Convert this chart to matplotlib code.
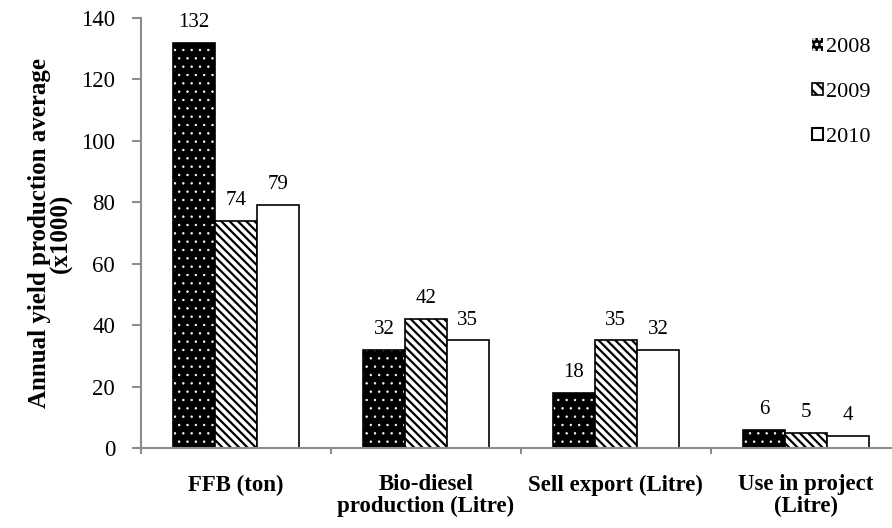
import matplotlib
matplotlib.use("Agg")
import matplotlib.pyplot as plt
from matplotlib.patches import Patch
import numpy as np

# yearly averages (x1000)
categories = ["FFB (ton)", "Bio-diesel\nproduction (Litre)", "Sell export (Litre)", "Use in project\n(Litre)"]
years = ["2008", "2009", "2010"]
v2008 = [132, 32, 18, 6]
v2009 = [74, 42, 35, 5]
v2010 = [79, 35, 32, 4]

plt.rcParams["font.family"] = ["Liberation Serif", "DejaVu Serif"]
plt.rcParams["hatch.linewidth"] = 1.6


def thin_hatch(patches, lw):
    for p in patches:
        if hasattr(p, "set_hatch_linewidth"):
            p.set_hatch_linewidth(lw)


fig = plt.figure(figsize=(8.92, 5.28), dpi=100)
ax = fig.add_axes([0.158, 0.1515, 0.852, 0.8145])

x = np.arange(len(categories)) + 0.5
w = 0.221
gray = "#8c8c8c"

series = [v2008, v2009, v2010]
for i, vals in enumerate(series):
    pos = x + (i - 1) * w
    if i == 0:
        # black fill with white dots
        dots = ax.bar(pos, vals, w, color="black", edgecolor="white", hatch="..", linewidth=0)
        thin_hatch(dots, 0.5)
        bars = ax.bar(pos, vals, w, fill=False, edgecolor="black", linewidth=1.2)
    elif i == 1:
        bars = ax.bar(pos, vals, w, color="white", edgecolor="black", hatch="\\\\\\\\", linewidth=1.2)
    else:
        bars = ax.bar(pos, vals, w, color="white", edgecolor="black", linewidth=1.2)
    for b, v in zip(bars, vals):
        ax.annotate(str(v), (b.get_x() + b.get_width() / 2, v), xytext=(0, 11.5),
                    textcoords="offset points", ha="center", va="baseline", fontsize=15)

# legend entries
handles = [
    Patch(facecolor="black", edgecolor="white", hatch="...", linewidth=0),
    Patch(facecolor="white", edgecolor="black", hatch="\\\\\\", linewidth=1.2),
    Patch(facecolor="white", edgecolor="black", linewidth=1.5),
]
thin_hatch(handles[:1], 0.3)
ax.legend(handles, years, loc="upper left", bbox_to_anchor=(0.910, 0.928),
          bbox_transform=fig.transFigure, frameon=False, borderpad=0, borderaxespad=0,
          fontsize=16, handlelength=0.5, handleheight=0.5, handletextpad=0.15,
          labelspacing=1.15)

ax.set_xlim(0, 4)
ax.set_ylim(0, 140)
ax.set_yticks(range(0, 141, 20))
ax.set_xticks(range(0, 5))
ax.set_xticklabels([])
ax.set_xticks(x, minor=True)
ax.set_xticklabels(categories, minor=True, fontweight="bold", fontsize=16.5, linespacing=1.0)
ax.tick_params(axis="x", which="minor", length=0, pad=19)
ax.tick_params(axis="x", which="major", length=4.5, color=gray, width=1.5)
ax.tick_params(axis="y", length=6.5, color=gray, width=1.5, labelsize=16.5, pad=12)

for s in ["top", "right"]:
    ax.spines[s].set_visible(False)
for s in ["left", "bottom"]:
    ax.spines[s].set_color(gray)
    ax.spines[s].set_linewidth(1.5)

ax.set_ylabel("Annual yield production average\n(x1000)", fontweight="bold", fontsize=18,
              linespacing=0.9, labelpad=6)

fig.savefig("out.png", dpi=100)
